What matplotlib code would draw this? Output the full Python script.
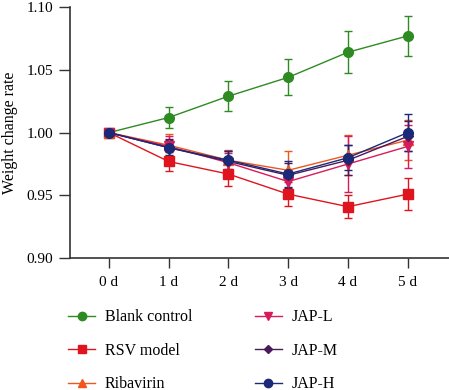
import matplotlib.pyplot as plt
from matplotlib.lines import Line2D

plt.rcParams['font.family'] = ['Liberation Serif', 'DejaVu Serif']

# Data
days = ['0 d', '1 d', '2 d', '3 d', '4 d', '5 d']
groups = ['Blank control', 'RSV model', 'Ribavirin', 'JAP-L', 'JAP-M', 'JAP-H']

blank = [1.000, 1.012, 1.029, 1.044, 1.064, 1.077]
blank_err = [0.0, 0.0085, 0.0117, 0.0143, 0.0167, 0.0159]
rsv = [1.000, 0.977, 0.967, 0.951, 0.941, 0.951]
rsv_err = [0.0, 0.0074, 0.0093, 0.0093, 0.0093, 0.0125]
riba = [1.000, 0.990, 0.978, 0.970, 0.982, 0.994]
riba_err = [0.0, 0.009, 0.008, 0.015, 0.016, 0.016]
jap_l = [1.000, 0.989, 0.976, 0.961, 0.975, 0.989]
jap_l_err = [0.0, 0.008, 0.008, 0.009, 0.022, 0.017]
jap_m = [1.000, 0.988, 0.977, 0.966, 0.978, 0.997]
jap_m_err = [0.0, 0.007, 0.008, 0.010, 0.012, 0.012]
jap_h = [1.000, 0.988, 0.978, 0.967, 0.980, 1.000]
jap_h_err = [0.0, 0.006, 0.007, 0.010, 0.010, 0.0146]

series = [blank, rsv, riba, jap_l, jap_m, jap_h]
errors = [blank_err, rsv_err, riba_err, jap_l_err, jap_m_err, jap_h_err]
colors = ['#2e8b22', '#e0141e', '#f0561e', '#d81b5a', '#4a1a5a', '#1a2a78']
markers = ['o', 's', '^', 'v', 'D', 'o']
msizes = [7, 7, 7, 7, 5, 7]

fig = plt.figure(figsize=(4.49, 3.90), dpi=100)
ax = fig.add_axes([0.156, 0.338, 0.844, 0.644])

x = list(range(len(days)))
handles = []
for vals, err, c, m, ms, name in zip(series, errors, colors, markers, msizes, groups):
    ax.errorbar(x, vals, yerr=err, color=c, marker=m, markersize=ms,
                linewidth=1.0, elinewidth=1.0, capsize=3, capthick=1.0)
    # plain line + marker for the legend, no error bar
    handles.append(Line2D([], [], color=c, marker=m, markersize=ms - 1, linewidth=1.0))

ax.set_xlim(-0.65, 5.69)
ax.set_ylim(0.90, 1.10)
ax.set_xticks(x)
ax.set_xticklabels(days)
ax.set_yticks([0.90, 0.95, 1.00, 1.05, 1.10])
ax.set_yticklabels(['0.90', '0.95', '1.00', '1.05', '1.10'])
ax.set_ylabel('Weight change rate', fontsize=11.5, labelpad=6)
ax.tick_params(labelsize=11, direction='out', width=1, color='#333333')
ax.tick_params(axis='y', length=8, pad=4)
ax.tick_params(axis='x', length=7, pad=6)
ax.spines['top'].set_visible(False)
ax.spines['right'].set_visible(False)
for side in ['left', 'bottom']:
    ax.spines[side].set_linewidth(1.2)
    ax.spines[side].set_color('#333333')

# Legend below the axes in two columns
fig.legend(handles, groups, ncol=2, loc='upper left',
           bbox_to_anchor=(0.152, 0.207), borderpad=0, borderaxespad=0,
           frameon=False, fontsize=11.5, handlelength=1.7, handletextpad=0.6,
           columnspacing=3.9, labelspacing=1.1)

fig.savefig('out.png', dpi=100)
